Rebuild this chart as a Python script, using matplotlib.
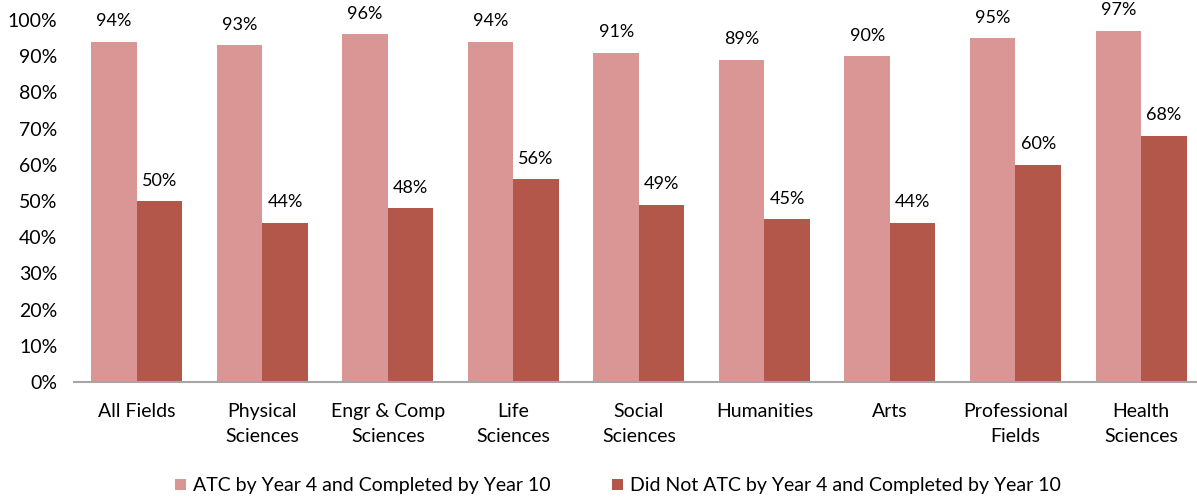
import matplotlib.pyplot as plt
import numpy as np

plt.rcParams['font.family'] = ['Lato', 'DejaVu Sans']

categories = ["All Fields", "Physical\nSciences", "Engr & Comp\nSciences", "Life\nSciences",
              "Social\nSciences", "Humanities", "Arts", "Professional\nFields", "Health\nSciences"]
atc_completed = [94, 93, 96, 94, 91, 89, 90, 95, 97]
not_atc_completed = [50, 44, 48, 56, 49, 45, 44, 60, 68]
series_names = ["ATC by Year 4 and Completed by Year 10",
                "Did Not ATC by Year 4 and Completed by Year 10"]
colors = ["#D99694", "#B3574A"]

W, H = 1197, 500
fig = plt.figure(figsize=(W / 100, H / 100), dpi=100)
ax = fig.add_axes([74 / W, 1 - 382 / H, (W - 74) / W, (382 - 20) / H])

x = np.arange(len(categories))
bw = 0.3625
b1 = ax.bar(x - bw / 2, atc_completed, bw, color=colors[0], label=series_names[0])
b2 = ax.bar(x + bw / 2, not_atc_completed, bw, color=colors[1], label=series_names[1])

for bars, vals in ((b1, atc_completed), (b2, not_atc_completed)):
    for b, v in zip(bars, vals):
        ax.annotate(f"{v}%", (b.get_x() + b.get_width() / 2, v), xytext=(0, 9),
                    textcoords="offset points", ha="center", va="bottom", fontsize=13)

ax.set_xlim(-0.5, 8.446)
ax.set_ylim(0, 100)
ax.set_yticks(range(0, 101, 10))
ax.set_yticklabels([f"{t}%" for t in range(0, 101, 10)], fontsize=14)
ax.set_xticks(x)
ax.set_xticklabels(categories, fontsize=14, linespacing=1.55)
ax.tick_params(axis="both", length=0)
ax.tick_params(axis="x", pad=15)
ax.tick_params(axis="y", pad=12)
for s in ("top", "right", "left"):
    ax.spines[s].set_visible(False)
ax.spines["bottom"].set_color("#A6A6A6")
ax.spines["bottom"].set_linewidth(1.5)

fig.legend(loc="center", bbox_to_anchor=(618 / W, 1 - 486 / H), ncol=2, frameon=False,
           fontsize=14, handlelength=0.55, handleheight=0.55, handletextpad=0.35,
           columnspacing=3.2)

fig.savefig("out.png", dpi=100)
